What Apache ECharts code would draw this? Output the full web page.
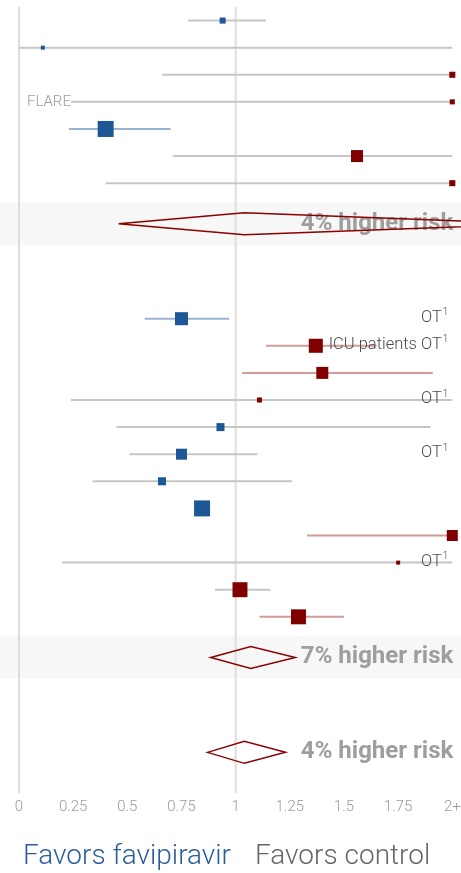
<!DOCTYPE html>
<html>
<head>
<meta charset="utf-8">
<script src="https://cdn.jsdelivr.net/npm/echarts@6/dist/echarts.min.js"></script>
<style>
  html, body { margin: 0; padding: 0; background: #fff; }
  #chart { width: 461px; height: 873px; }
</style>
</head>
<body>
<div id="chart"></div>
<script>
// Relative risk axis: values above XMAX are drawn at the "2+" edge.
const XMAX = 2;

// First group of studies
const estA    = [0.94, 0.11, 2.00, 2.00, 0.40, 1.56, 2.00];
const lowA    = [0.78, 0.00, 0.66, 0.24, 0.23, 0.71, 0.40];
const highA   = [1.14, 2.00, 2.00, 2.00, 0.70, 2.00, 2.00];
const weightA = [2.3, 1.0, 2.3, 1.6, 16, 9, 2.3];
const leftNoteA = ['', '', '', 'FLARE', '', '', ''];
const pooledA = [1.04, 0.46, 2.40];

// Second group of studies
const estB    = [0.75, 1.37, 1.40, 1.11, 0.93, 0.75, 0.66, 0.845, 2.00, 1.75, 1.02, 1.29];
const lowB    = [0.58, 1.14, 1.03, 0.24, 0.45, 0.51, 0.34, 0.81, 1.33, 0.20, 0.905, 1.11];
const highB   = [0.97, 1.65, 1.91, 2.00, 1.90, 1.10, 1.26, 0.88, 2.00, 2.00, 1.16, 1.50];
const weightB = [10.6, 12.3, 9, 1.6, 4, 7.6, 4, 16, 7.6, 1.0, 14, 14];
const rightNoteB = ['OT', 'ICU patients OT', '', 'OT', '', 'OT', '', '', '', 'OT', '', ''];
const pooledB = [1.07, 0.885, 1.275];

// Overall pooled estimate
const pooledAll = [1.04, 0.87, 1.23];

const BLUE = '#1f5796';
const RED = '#800000';
const CI_BLUE = '#9bb4d4';
const CI_RED = '#d39a9a';
const CI_GREY = '#c6c6c6';
const FONT = 'Roboto';

const cap = v => Math.min(v, XMAX);
const riskText = est => {
  const p = Math.round((est - 1) * 100);
  return p >= 0 ? p + '% higher risk' : (-p) + '% lower risk';
};

// Row layout: one row per study, a half-row offset for each pooled diamond
const rowStartA = 0;
const rowPooledA = rowStartA + estA.length + 0.5;
const rowStartB = rowStartA + estA.length + 4;
const rowPooledB = rowStartB + estB.length + 0.5;
const rowAll = rowPooledB + 3.5;
const rowMin = -0.5, rowMax = rowAll + 1.5;

const studies = [];
estA.forEach((e, i) => studies.push([cap(e), cap(lowA[i]), cap(highA[i]), rowStartA + i, weightA[i], leftNoteA[i], '']));
estB.forEach((e, i) => studies.push([cap(e), cap(lowB[i]), cap(highB[i]), rowStartB + i, weightB[i], '', rightNoteB[i]]));

const pooled = [
  [...pooledA, rowPooledA],
  [...pooledB, rowPooledB],
  [...pooledAll, rowAll]
];

function ciColor(lo, hi) {
  if (hi < 1) return CI_BLUE;
  if (lo > 1) return CI_RED;
  return CI_GREY;
}

const chart = echarts.init(document.getElementById('chart'), null, { renderer: 'canvas' });

chart.setOption({
  animation: false,
  backgroundColor: '#fff',
  grid: { left: 19, right: 8.7, top: 7, bottom: 80, containLabel: false, outerBoundsMode: 'none' },
  xAxis: {
    type: 'value', min: 0, max: XMAX, interval: 0.25,
    axisLine: { show: false }, axisTick: { show: false }, splitLine: { show: false },
    axisLabel: {
      margin: 7, color: '#9a9a9a', fontSize: 15, fontWeight: 300, fontFamily: FONT,
      hideOverlap: false,
      formatter: v => (v === XMAX ? '2+' : String(v))
    }
  },
  yAxis: { type: 'value', inverse: true, min: rowMin, max: rowMax, show: false },
  graphic: [
    { type: 'text', left: 23, top: 843, style: { text: 'Favors favipiravir', fill: '#2a5d9c', font: '300 28px ' + FONT } },
    { type: 'text', left: 255, top: 843, style: { text: 'Favors control', fill: '#666666', font: '300 28px ' + FONT } }
  ],
  series: [
    {
      // shaded bands behind the subgroup pooled estimates
      type: 'custom', z: 1, clip: false,
      data: [[rowPooledA], [rowPooledB]],
      renderItem: (params, api) => {
        const y = api.value(0);
        const top = api.coord([0, y - 0.78])[1];
        const bot = api.coord([0, y + 0.78])[1];
        return { type: 'rect', shape: { x: 0, y: top, width: api.getWidth(), height: bot - top }, style: { fill: '#f7f7f7' } };
      }
    },
    {
      // reference lines at 0 and 1
      type: 'custom', z: 2, clip: false,
      data: [[0], [1]],
      renderItem: (params, api) => {
        const x = api.value(0);
        const a = api.coord([x, rowMin]);
        const b = api.coord([x, rowMax]);
        return { type: 'line', shape: { x1: a[0], y1: a[1], x2: b[0], y2: b[1] }, style: { stroke: '#dddddd', lineWidth: 2 } };
      }
    },
    {
      // individual studies: confidence interval, weighted square, notes
      type: 'custom', z: 3, clip: false,
      data: studies,
      renderItem: (params, api) => {
        const est = api.value(0), lo = api.value(1), hi = api.value(2), row = api.value(3), w = api.value(4);
        const d = studies[params.dataIndex];
        const pE = api.coord([est, row]);
        const pL = api.coord([lo, row]);
        const pH = api.coord([hi, row]);
        const s = 4 * Math.sqrt(w);
        const children = [
          { type: 'line', shape: { x1: pL[0], y1: pL[1], x2: pH[0], y2: pH[1] }, style: { stroke: ciColor(lo, hi), lineWidth: 2 } },
          { type: 'rect', shape: { x: pE[0] - s / 2, y: pE[1] - s / 2, width: s, height: s }, style: { fill: est < 1 ? BLUE : RED } }
        ];
        if (d[5]) {
          const p0 = api.coord([0, row]);
          children.push({ type: 'text', x: p0[0] + 8, y: p0[1], style: { text: d[5], fill: '#9a9a9a', font: '300 15px ' + FONT, verticalAlign: 'middle', align: 'left' } });
        }
        if (d[6]) {
          const pR = api.coord([XMAX, row]);
          // note text with a raised footnote marker
          children.push({
            type: 'text', x: pR[0] - 4, y: pR[1] - 1,
            style: {
              text: '{t|' + d[6] + '}{s|1}', align: 'right', verticalAlign: 'middle',
              rich: {
                t: { fontFamily: FONT, fontWeight: 300, fontSize: 16.5, fill: '#4a4a4a', lineHeight: 20 },
                s: { fontFamily: FONT, fontWeight: 300, fontSize: 10, fill: '#4a4a4a', lineHeight: 20, padding: [0, 0, 10, 1] }
              }
            }
          });
        }
        return { type: 'group', children };
      }
    },
    {
      // pooled estimates: summary text with the diamond drawn over it
      type: 'custom', z: 4, clip: false,
      data: pooled,
      renderItem: (params, api) => {
        const est = api.value(0), lo = api.value(1), hi = api.value(2), row = api.value(3);
        const pE = api.coord([est, row]);
        const pL = api.coord([lo, row]);
        const pH = api.coord([hi, row]);
        const pR = api.coord([XMAX, row]);
        const h = 11;
        return {
          type: 'group',
          children: [
            { type: 'text', x: pR[0] + 1, y: pR[1], style: { text: riskText(est), fill: '#9e9e9e', font: 'bold 24px ' + FONT, verticalAlign: 'middle', align: 'right' } },
            { type: 'polygon', shape: { points: [[pL[0], pE[1]], [pE[0], pE[1] - h], [pH[0], pE[1]], [pE[0], pE[1] + h]] },
              style: { fill: 'none', stroke: '#8b0000', lineWidth: 1.5 } }
          ]
        };
      }
    }
  ]
});
</script>
</body>
</html>
